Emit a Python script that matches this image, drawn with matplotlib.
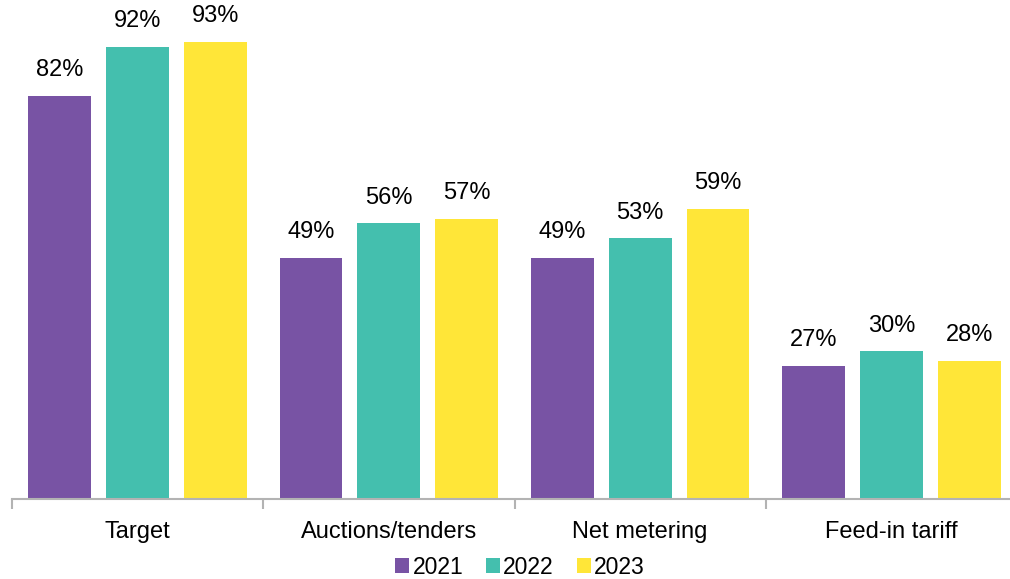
import matplotlib
matplotlib.use("Agg")
import matplotlib.pyplot as plt
import numpy as np

plt.rcParams['font.family'] = ['Liberation Sans', 'DejaVu Sans']

categories = ["Target", "Auctions/tenders", "Net metering", "Feed-in tariff"]
years = ["2021", "2022", "2023"]
v2021 = [82, 49, 49, 27]
v2022 = [92, 56, 53, 30]
v2023 = [93, 57, 59, 28]
series = [v2021, v2022, v2023]
colors = ["#7853A4", "#44BFAE", "#FFE638"]

W, H = 1010, 579
fig = plt.figure(figsize=(W / 100, H / 100), dpi=100)
ax = fig.add_axes([12 / W, (H - 498.5) / H, 1005 / W, 498.5 / H])

x = np.arange(len(categories))
offsets = [-0.31, 0.0, 0.31]
bw = 0.25
for vals, off, c, yr in zip(series, offsets, colors, years):
    bars = ax.bar(x + off, vals, width=bw, color=c, label=yr)
    for b, v in zip(bars, vals):
        ax.annotate(f"{v}%", (b.get_x() + b.get_width() / 2, v),
                    xytext=(0, 10.5), textcoords="offset points",
                    ha="center", va="bottom", fontsize=17, color="#000000")

ax.set_xlim(-0.5, 3.5)
ax.set_ylim(0, 101.5)
ax.set_yticks([])
for s in ["top", "right", "left"]:
    ax.spines[s].set_visible(False)
ax.spines["bottom"].set_color("#B3B3B3")
ax.spines["bottom"].set_linewidth(1.5)

ax.set_xticks(x)
ax.set_xticklabels(categories, fontsize=17)
ax.tick_params(axis="x", which="major", length=0, pad=16)
ax.set_xticks(np.arange(-0.5, 4.0, 1.0), minor=True)
ax.tick_params(axis="x", which="minor", length=7, width=1.5, color="#B3B3B3")

leg = fig.legend(loc="center", bbox_to_anchor=(520 / W, 1 - 567 / H), ncol=3,
                 frameon=False, fontsize=16.5, handlelength=0.6, handleheight=0.6,
                 handletextpad=0.15, columnspacing=1.0)

fig.savefig("out.png", dpi=100)
